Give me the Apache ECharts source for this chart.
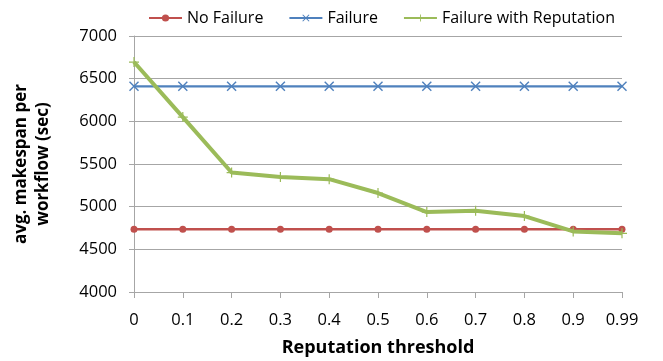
<!DOCTYPE html>
<html>
<head>
<meta charset="utf-8">
<script src="https://cdn.jsdelivr.net/npm/echarts@6/dist/echarts.min.js"></script>
<style>
  html, body { margin: 0; padding: 0; background: #fff; }
  #chart { width: 663px; height: 361px; }
</style>
</head>
<body>
<div id="chart"></div>
<script>
// Reputation thresholds on the x axis
const thresholds = ['0', '0.1', '0.2', '0.3', '0.4', '0.5', '0.6', '0.7', '0.8', '0.9', '0.99'];

// Average makespan per workflow (sec)
const noFailure = [4735, 4735, 4735, 4735, 4735, 4735, 4735, 4735, 4735, 4735, 4735];
const failure = [6410, 6410, 6410, 6410, 6410, 6410, 6410, 6410, 6410, 6410, 6410];
const failureWithReputation = [6695, 6050, 5400, 5348, 5322, 5160, 4937, 4953, 4890, 4710, 4688];

const seriesNames = ['No Failure', 'Failure', 'Failure with Reputation'];

// Marker shapes: a cross (×) and a thin plus (+)
const crossPath = 'path://M0,1 L1,0 L5,4 L9,0 L10,1 L6,5 L10,9 L9,10 L5,6 L1,10 L0,9 L4,5 Z';
const plusPath = 'path://M4.4,0 H5.6 V4.4 H10 V5.6 H5.6 V10 H4.4 V5.6 H0 V4.4 H4.4 Z';

const font = '"Open Sans", sans-serif';

const chart = echarts.init(document.getElementById('chart'), null, { renderer: 'canvas' });

chart.setOption({
  animation: false,
  backgroundColor: '#ffffff',
  textStyle: { fontFamily: font },
  legend: {
    top: 5,
    left: 143,
    itemGap: 25,
    itemWidth: 33,
    itemHeight: 9,
    textStyle: { fontFamily: font, fontSize: 16, color: '#000' },
    data: seriesNames
  },
  grid: { left: 134, right: 41, top: 36, bottom: 69, containLabel: false, outerBoundsMode: 'none' },
  xAxis: {
    type: 'category',
    data: thresholds,
    boundaryGap: false,
    name: 'Reputation threshold',
    nameLocation: 'middle',
    nameGap: 47,
    nameTextStyle: { fontFamily: font, fontSize: 18, fontWeight: 'bold', color: '#000' },
    axisLine: { show: true, lineStyle: { color: '#a6a6a6', width: 1 } },
    axisTick: { show: true, alignWithLabel: true, length: 6, lineStyle: { color: '#a6a6a6' } },
    axisLabel: { margin: 20, fontFamily: font, fontSize: 16.5, color: '#000' },
    splitLine: { show: false }
  },
  yAxis: {
    type: 'value',
    min: 4000,
    max: 7000,
    interval: 500,
    name: 'avg. makespan per\nworkflow (sec)',
    nameLocation: 'middle',
    nameGap: 80,
    nameRotate: 90,
    nameTextStyle: { fontFamily: font, fontSize: 17, fontWeight: 'bold', color: '#000', lineHeight: 22 },
    axisLine: { show: true, lineStyle: { color: '#a6a6a6', width: 1 } },
    axisTick: { show: true, length: 5, lineStyle: { color: '#a6a6a6' } },
    axisLabel: { margin: 17, fontFamily: font, fontSize: 16.5, color: '#000', formatter: (v) => String(v) },
    splitLine: { show: true, lineStyle: { color: '#a6a6a6', width: 1 } }
  },
  series: [
    {
      name: seriesNames[0],
      type: 'line',
      data: noFailure,
      symbol: 'circle',
      symbolSize: 7,
      lineStyle: { color: '#c0504d', width: 2.5 },
      itemStyle: { color: '#c0504d' },
      z: 2
    },
    {
      name: seriesNames[1],
      type: 'line',
      data: failure,
      symbol: crossPath,
      symbolSize: 10,
      lineStyle: { color: '#4f81bd', width: 2.25 },
      itemStyle: { color: '#4f81bd' },
      z: 3
    },
    {
      name: seriesNames[2],
      type: 'line',
      data: failureWithReputation,
      symbol: plusPath,
      symbolSize: 10,
      lineStyle: { color: '#9bbb59', width: 4 },
      itemStyle: { color: '#9bbb59' },
      z: 4
    }
  ]
});
</script>
</body>
</html>
